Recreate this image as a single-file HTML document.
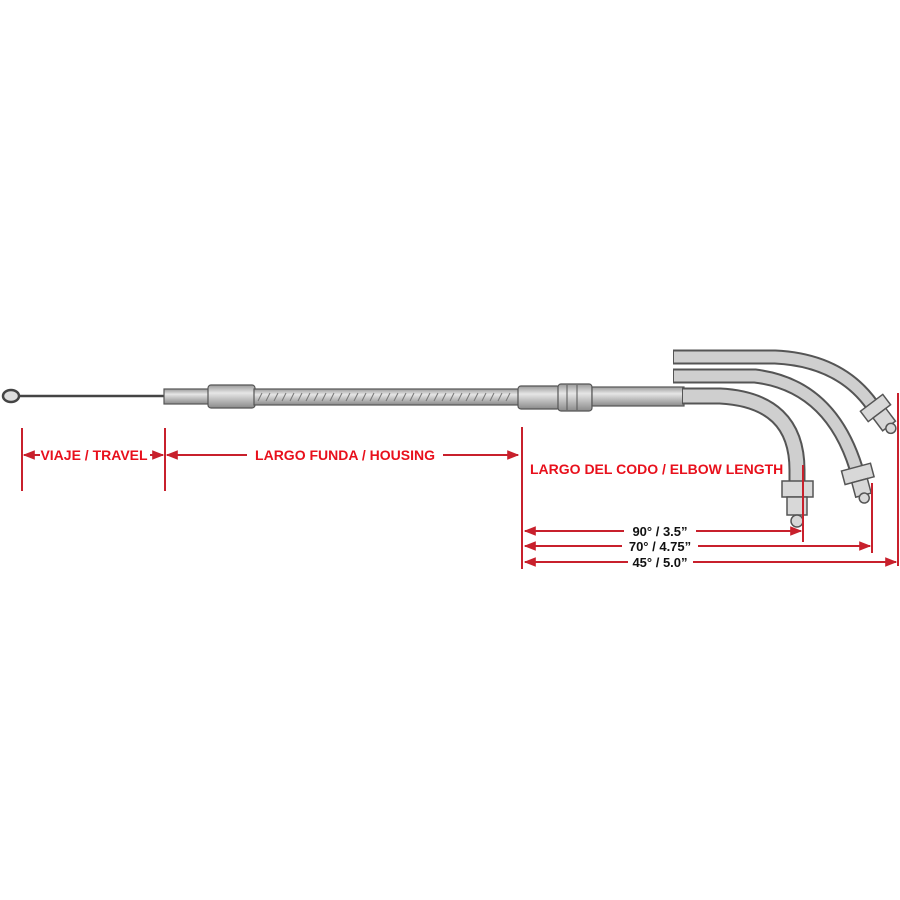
<!DOCTYPE html>
<html><head><meta charset="utf-8"><style>
html,body{margin:0;padding:0;background:#fff;width:900px;height:900px;overflow:hidden}
svg{display:block}
.r{fill:#e8101c;font-family:"Liberation Sans",sans-serif;font-weight:bold;font-size:14px}
.k{fill:#111;font-family:"Liberation Sans",sans-serif;font-weight:bold;font-size:13px}
</style></head><body>
<svg width="900" height="900" viewBox="0 0 900 900" xmlns="http://www.w3.org/2000/svg">
<defs>
<linearGradient id="g" x1="0" y1="0" x2="0" y2="1">
<stop offset="0" stop-color="#9a9a9a"/><stop offset="0.35" stop-color="#e6e6e6"/><stop offset="1" stop-color="#8a8a8a"/>
</linearGradient>
<marker id="a" viewBox="0 0 10 10" refX="9" refY="5" markerWidth="6" markerHeight="6" orient="auto-start-reverse"><path d="M0,1 L10,5 L0,9 z" fill="#c8202c"/></marker>
</defs>
<ellipse cx="11" cy="396" rx="8" ry="6" fill="#ddd" stroke="#444" stroke-width="2.5"/>
<line x1="19" y1="396" x2="165" y2="396" stroke="#444" stroke-width="2.5"/>
<rect x="164" y="389" width="45" height="15" fill="url(#g)" stroke="#555" stroke-width="1.2"/>
<rect x="208" y="385" width="47" height="23" rx="3" fill="url(#g)" stroke="#555" stroke-width="1.2"/>
<rect x="254" y="389" width="266" height="16" fill="url(#g)" stroke="#555" stroke-width="1.2"/>
<path d="M258 401 l4 -8 M266 401 l4 -8 M274 401 l4 -8 M282 401 l4 -8 M290 401 l4 -8 M298 401 l4 -8 M306 401 l4 -8 M314 401 l4 -8 M322 401 l4 -8 M330 401 l4 -8 M338 401 l4 -8 M346 401 l4 -8 M354 401 l4 -8 M362 401 l4 -8 M370 401 l4 -8 M378 401 l4 -8 M386 401 l4 -8 M394 401 l4 -8 M402 401 l4 -8 M410 401 l4 -8 M418 401 l4 -8 M426 401 l4 -8 M434 401 l4 -8 M442 401 l4 -8 M450 401 l4 -8 M458 401 l4 -8 M466 401 l4 -8 M474 401 l4 -8 M482 401 l4 -8 M490 401 l4 -8 M498 401 l4 -8 M506 401 l4 -8" stroke="#777" stroke-width="1"/>
<rect x="518" y="386" width="42" height="23" rx="3" fill="url(#g)" stroke="#555" stroke-width="1.2"/>
<rect x="558" y="384" width="34" height="27" rx="3" fill="url(#g)" stroke="#555" stroke-width="1.2"/>
<line x1="567" y1="385" x2="567" y2="410" stroke="#555"/><line x1="577" y1="385" x2="577" y2="410" stroke="#555"/>
<!-- 45 -->
<path d="M673 357 L775 357 Q840 360 872 405" fill="none" stroke="#555" stroke-width="15"/>
<path d="M674 357 L775 357 Q840 360 872 405" fill="none" stroke="#cfcfcf" stroke-width="11"/>
<g transform="translate(874,406) rotate(-37)"><rect x="-14" y="-4" width="28" height="13" fill="#d8d8d8" stroke="#555" stroke-width="1.5"/><rect x="-8" y="9" width="16" height="16" fill="#d8d8d8" stroke="#555" stroke-width="1.5"/><circle cx="0" cy="28" r="5" fill="#d8d8d8" stroke="#555" stroke-width="1.5"/></g>
<!-- 70 -->
<path d="M673 376 L755 376 Q830 385 856 468" fill="none" stroke="#555" stroke-width="15"/>
<path d="M674 376 L755 376 Q830 385 856 468" fill="none" stroke="#cfcfcf" stroke-width="11"/>
<g transform="translate(857,471) rotate(-15)"><rect x="-15" y="-4" width="30" height="14" fill="#d8d8d8" stroke="#555" stroke-width="1.5"/><rect x="-8" y="10" width="16" height="15" fill="#d8d8d8" stroke="#555" stroke-width="1.5"/><circle cx="0" cy="28" r="5" fill="#d8d8d8" stroke="#555" stroke-width="1.5"/></g>
<!-- 90 -->
<rect x="592" y="387" width="92" height="19" fill="url(#g)" stroke="#555" stroke-width="1.2"/>
<path d="M682 396 L720 396 Q797 400 797 470 L797 482" fill="none" stroke="#555" stroke-width="17"/>
<path d="M683 396 L720 396 Q797 400 797 470 L797 482" fill="none" stroke="#cfcfcf" stroke-width="13"/>
<rect x="782" y="481" width="31" height="16" fill="#d8d8d8" stroke="#555" stroke-width="1.5"/>
<rect x="787" y="497" width="20" height="18" fill="#d8d8d8" stroke="#555" stroke-width="1.5"/>
<circle cx="797" cy="521" r="6" fill="#d8d8d8" stroke="#555" stroke-width="1.5"/>
<g stroke="#c8202c" stroke-width="2" fill="none">
<line x1="22" y1="428" x2="22" y2="491"/>
<line x1="165" y1="428" x2="165" y2="491"/>
<line x1="522" y1="427" x2="522" y2="569"/>
<line x1="803" y1="465" x2="803" y2="542"/>
<line x1="872" y1="483" x2="872" y2="553"/>
<line x1="898" y1="393" x2="898" y2="566"/>
<line x1="40" y1="455" x2="24" y2="455" marker-end="url(#a)"/>
<line x1="150" y1="455" x2="163" y2="455" marker-end="url(#a)"/>
<line x1="247" y1="455" x2="167" y2="455" marker-end="url(#a)"/>
<line x1="443" y1="455" x2="518" y2="455" marker-end="url(#a)"/>
<line x1="624" y1="531" x2="525" y2="531" marker-end="url(#a)"/>
<line x1="696" y1="531" x2="801" y2="531" marker-end="url(#a)"/>
<line x1="622" y1="546" x2="525" y2="546" marker-end="url(#a)"/>
<line x1="698" y1="546" x2="870" y2="546" marker-end="url(#a)"/>
<line x1="628" y1="562" x2="525" y2="562" marker-end="url(#a)"/>
<line x1="693" y1="562" x2="896" y2="562" marker-end="url(#a)"/>
</g>
<text class="r" x="94" y="460" text-anchor="middle">VIAJE / TRAVEL</text>
<text class="r" x="345" y="460" text-anchor="middle">LARGO FUNDA / HOUSING</text>
<text class="r" x="530" y="474">LARGO DEL CODO / ELBOW LENGTH</text>
<text class="k" x="660" y="536" text-anchor="middle">90° / 3.5”</text>
<text class="k" x="660" y="551" text-anchor="middle">70° / 4.75”</text>
<text class="k" x="660" y="567" text-anchor="middle">45° / 5.0”</text>
</svg>
</body></html>
